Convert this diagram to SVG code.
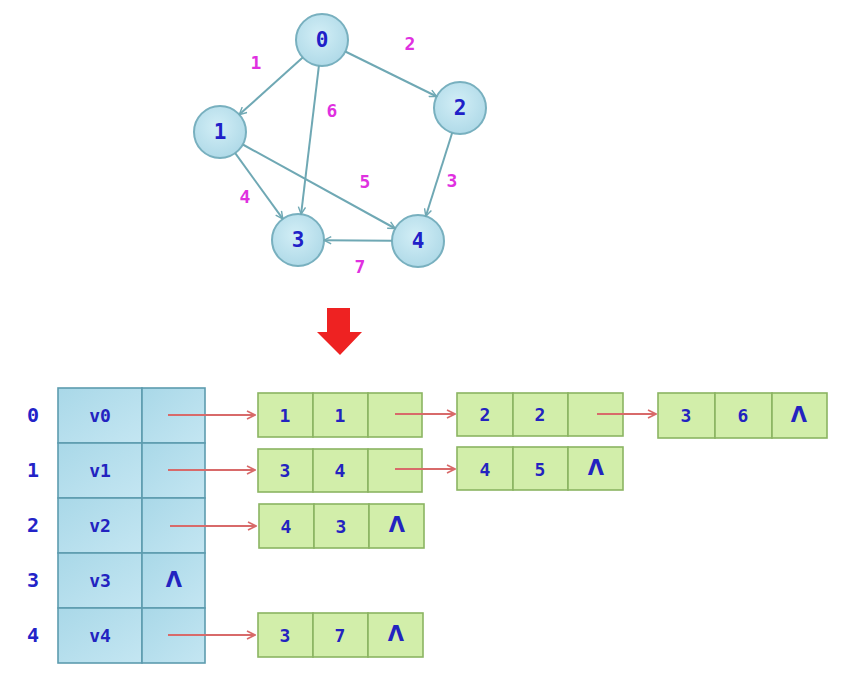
<svg xmlns="http://www.w3.org/2000/svg" width="865" height="695" viewBox="0 0 865 695">
<defs>
<marker id="ga" viewBox="0 0 10 10" refX="9" refY="5" markerWidth="9" markerHeight="9" markerUnits="userSpaceOnUse" orient="auto">
<path d="M1,1 L9,5 L1,9" fill="none" stroke="#6fa8b4" stroke-width="1.6"/>
</marker>
<marker id="ra" viewBox="0 0 10 10" refX="9" refY="5" markerWidth="10" markerHeight="10" markerUnits="userSpaceOnUse" orient="auto">
<path d="M1,1 L9,5 L1,9" fill="none" stroke="#d86a6a" stroke-width="1.6"/>
</marker>
<linearGradient id="bg" x1="0" y1="0" x2="1" y2="1">
<stop offset="0" stop-color="#a9d8e8"/>
<stop offset="1" stop-color="#c4e6f2"/>
</linearGradient>
<radialGradient id="cg" cx="0.45" cy="0.4" r="0.6">
<stop offset="0" stop-color="#d2eef6"/>
<stop offset="1" stop-color="#b0dae8"/>
</radialGradient>
</defs>
<style>
.nd{fill:url(#cg);stroke:#78b0bf;stroke-width:2}
.nt{font-family:"DejaVu Sans Mono",monospace;font-weight:bold;font-size:21px;fill:#2020c8;text-anchor:middle;dominant-baseline:central}
.el{font-family:"DejaVu Sans Mono",monospace;font-weight:bold;font-size:18px;fill:#e030e0;text-anchor:middle;dominant-baseline:central}
.ge{stroke:#6fa8b4;stroke-width:2;fill:none;marker-end:url(#ga)}
.re{stroke:#d86a6a;stroke-width:2;fill:none;marker-end:url(#ra)}
.vc{fill:url(#bg);stroke:#5d9cae;stroke-width:1.6}
.ec{fill:#d2eeaa;stroke:#8bb462;stroke-width:1.6}
.tt{font-family:"DejaVu Sans Mono",monospace;font-weight:bold;font-size:18px;fill:#2323c0;text-anchor:middle;dominant-baseline:central}
.ix{font-family:"DejaVu Sans Mono",monospace;font-weight:bold;font-size:20px;fill:#2323c8;text-anchor:middle;dominant-baseline:central}
.nl{font-family:"DejaVu Sans",sans-serif;font-weight:bold;font-size:21px;fill:#2323c0;text-anchor:middle;dominant-baseline:central}
</style>
<rect width="865" height="695" fill="#ffffff"/>
<g id="edge-labels">
<text class="el" x="256" y="62">1</text>
<text class="el" x="410" y="43">2</text>
<text class="el" x="332" y="110">6</text>
<text class="el" x="365" y="181">5</text>
<text class="el" x="452" y="180">3</text>
<text class="el" x="245" y="196">4</text>
<text class="el" x="360" y="266">7</text>
</g>
<g id="node0"><circle class="nd" cx="322" cy="40" r="26"/><text class="nt" x="322" y="40">0</text></g>
<g id="node1"><circle class="nd" cx="220" cy="132" r="26"/><text class="nt" x="220" y="132">1</text></g>
<g id="node2"><circle class="nd" cx="460" cy="108" r="26"/><text class="nt" x="460" y="108">2</text></g>
<g id="node3"><circle class="nd" cx="298" cy="240" r="26"/><text class="nt" x="298" y="240">3</text></g>
<g id="node4"><circle class="nd" cx="418" cy="241" r="26"/><text class="nt" x="418" y="241">4</text></g>
<g id="red-arrow">
<path d="M327,308 L350,308 L350,332 L362,332 L340,355 L317,332 L327,332 Z" fill="#ee2222"/>
</g>
<g id="vertex-table">
<text class="ix" x="33" y="415">0</text>
<text class="ix" x="33" y="470">1</text>
<text class="ix" x="33" y="525">2</text>
<text class="ix" x="33" y="580">3</text>
<text class="ix" x="33" y="635">4</text>
<rect class="vc" x="58" y="388" width="84" height="55"/><rect class="vc" x="142" y="388" width="63" height="55"/>
<rect class="vc" x="58" y="443" width="84" height="55"/><rect class="vc" x="142" y="443" width="63" height="55"/>
<rect class="vc" x="58" y="498" width="84" height="55"/><rect class="vc" x="142" y="498" width="63" height="55"/>
<rect class="vc" x="58" y="553" width="84" height="55"/><rect class="vc" x="142" y="553" width="63" height="55"/>
<rect class="vc" x="58" y="608" width="84" height="55"/><rect class="vc" x="142" y="608" width="63" height="55"/>
<text class="tt" x="100" y="415">v0</text>
<text class="tt" x="100" y="470">v1</text>
<text class="tt" x="100" y="525">v2</text>
<text class="tt" x="100" y="580">v3</text>
<text class="nl" x="174" y="580">Λ</text>
<text class="tt" x="100" y="635">v4</text>
</g>
<g id="e01">
<rect class="ec" x="258" y="393" width="55" height="44"/><rect class="ec" x="313" y="393" width="55" height="44"/><rect class="ec" x="368" y="393" width="54" height="44"/>
<text class="tt" x="285" y="415">1</text><text class="tt" x="340" y="415">1</text>
</g>
<g id="e02">
<rect class="ec" x="457" y="393" width="56" height="43"/><rect class="ec" x="513" y="393" width="55" height="43"/><rect class="ec" x="568" y="393" width="55" height="43"/>
<text class="tt" x="485" y="414">2</text><text class="tt" x="540" y="414">2</text>
</g>
<g id="e03">
<rect class="ec" x="658" y="393" width="57" height="45"/><rect class="ec" x="715" y="393" width="57" height="45"/><rect class="ec" x="772" y="393" width="55" height="45"/>
<text class="tt" x="686" y="415">3</text><text class="tt" x="743" y="415">6</text><text class="nl" x="799" y="415">Λ</text>
</g>
<g id="e13">
<rect class="ec" x="258" y="449" width="55" height="43"/><rect class="ec" x="313" y="449" width="55" height="43"/><rect class="ec" x="368" y="449" width="54" height="43"/>
<text class="tt" x="285" y="470">3</text><text class="tt" x="340" y="470">4</text>
</g>
<g id="e14">
<rect class="ec" x="457" y="447" width="56" height="43"/><rect class="ec" x="513" y="447" width="55" height="43"/><rect class="ec" x="568" y="447" width="55" height="43"/>
<text class="tt" x="485" y="469">4</text><text class="tt" x="540" y="469">5</text><text class="nl" x="596" y="468">Λ</text>
</g>
<g id="e24">
<rect class="ec" x="259" y="504" width="55" height="44"/><rect class="ec" x="314" y="504" width="55" height="44"/><rect class="ec" x="369" y="504" width="55" height="44"/>
<text class="tt" x="286" y="526">4</text><text class="tt" x="341" y="526">3</text><text class="nl" x="397" y="525">Λ</text>
</g>
<g id="e43">
<rect class="ec" x="258" y="613" width="55" height="44"/><rect class="ec" x="313" y="613" width="55" height="44"/><rect class="ec" x="368" y="613" width="55" height="44"/>
<text class="tt" x="285" y="635">3</text><text class="tt" x="340" y="635">7</text><text class="nl" x="396" y="634">Λ</text>
</g>
<g id="connectors">
<line class="ge" x1="302.7" y1="57.4" x2="239.3" y2="114.6"/>
<line class="ge" x1="345.3" y1="51.5" x2="436.7" y2="96.5"/>
<line class="ge" x1="318.9" y1="65.8" x2="301.1" y2="214.2"/>
<line class="ge" x1="235.2" y1="153.1" x2="282.8" y2="218.9"/>
<line class="ge" x1="242.8" y1="144.5" x2="395.2" y2="228.5"/>
<line class="ge" x1="452.2" y1="132.8" x2="425.8" y2="216.2"/>
<line class="ge" x1="392" y1="240.8" x2="324" y2="240.2"/>
<line class="re" x1="168" y1="415" x2="255" y2="415"/>
<line class="re" x1="168" y1="470" x2="255" y2="470"/>
<line class="re" x1="170" y1="526" x2="256" y2="526"/>
<line class="re" x1="168" y1="635" x2="255" y2="635"/>
<line class="re" x1="395" y1="414" x2="455" y2="414"/>
<line class="re" x1="395" y1="469" x2="455" y2="469"/>
<line class="re" x1="597" y1="414" x2="656" y2="414"/>
</g>
</svg>
